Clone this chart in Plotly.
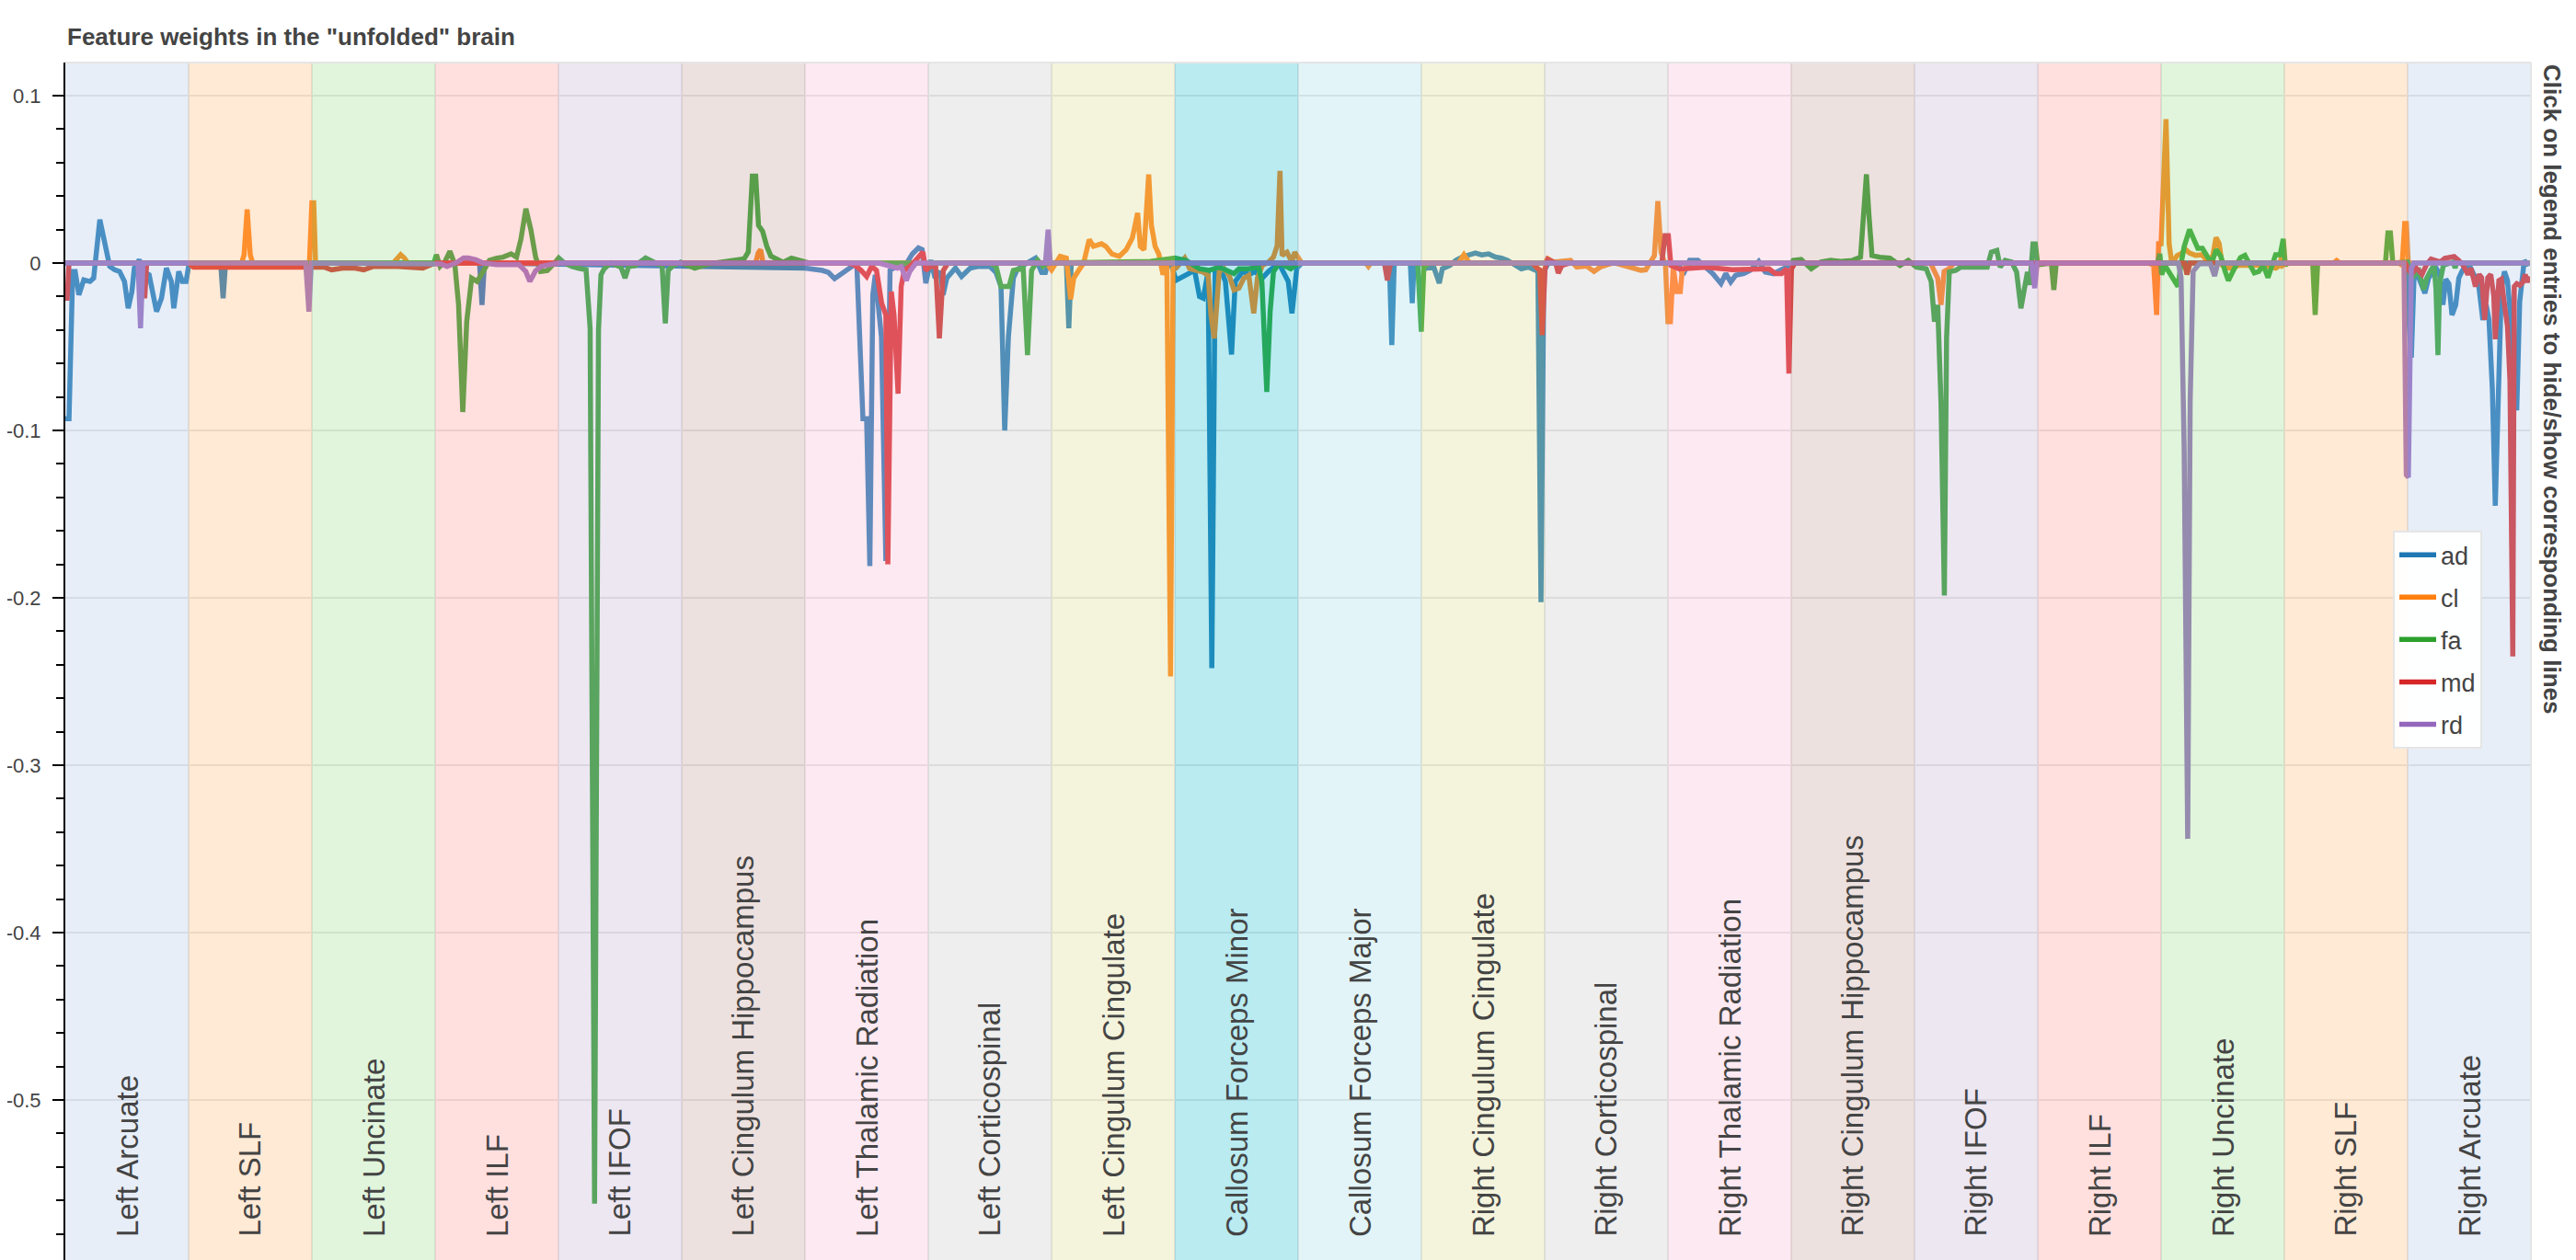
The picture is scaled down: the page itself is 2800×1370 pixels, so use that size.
import plotly.graph_objects as go

# --- data ---
TRACTS = [
    "Left Arcuate", "Left SLF", "Left Uncinate", "Left ILF", "Left IFOF",
    "Left Cingulum Hippocampus", "Left Thalamic Radiation", "Left Corticospinal",
    "Left Cingulum Cingulate", "Callosum Forceps Minor", "Callosum Forceps Major",
    "Right Cingulum Cingulate", "Right Corticospinal", "Right Thalamic Radiation",
    "Right Cingulum Hippocampus", "Right IFOF", "Right ILF", "Right Uncinate",
    "Right SLF", "Right Arcuate",
]
NODES_PER_TRACT = 100
METRICS = ["ad", "cl", "fa", "md", "rd"]
Y_TICKS = [-0.5, -0.4, -0.3, -0.2, -0.1, 0, 0.1]
Y_TICK_TEXT = ["-0.5", "-0.4", "-0.3", "-0.2", "-0.1", "0", "0.1"]

# (node, weight) pairs, node runs 0..1999 along the unfolded tracts
AD_POINTS = [
    (0, -0.093), (3, -0.093), (6, -0.005), (8, -0.005), (11, -0.019), (15, -0.010),
    (20, -0.011), (23, -0.009), (28, 0.026), (31, 0.014), (36, -0.002), (40, -0.004),
    (44, -0.005), (48, -0.011), (51, -0.027), (54, -0.017), (56, -0.003), (60, 0.002),
    (63, -0.005), (68, -0.007), (74, -0.029), (78, -0.021), (82, -0.003), (86, -0.011),
    (88, -0.027), (92, -0.005), (95, -0.011), (98, -0.011), (100, -0.002), (104, 0),
    (126, 0), (128, -0.021), (130, 0),
    (336, 0), (338, -0.025), (340, 0),
    (600, -0.003), (614, -0.0044), (619, -0.0056), (624, -0.0093), (630, -0.006),
    (636, -0.0025), (642, 0), (647, -0.093), (650, -0.093), (652.6, -0.181), (655, -0.019),
    (657, -0.007), (662, -0.044), (665.6, -0.178), (669, -0.0044), (674, -0.002),
    (681, -0.002), (687, 0.0054), (692, 0.009), (695, 0.008), (698, -0.012), (702, 0.0017),
    (705.5, -0.009), (710, -0.005), (712, -0.019), (715, -0.009), (722, -0.003),
    (727, -0.008), (734, -0.003), (741, -0.002), (750, -0.002), (755, -0.0056),
    (759, -0.014), (762, -0.1), (765, -0.044), (769, -0.009), (772, -0.004), (780, 0),
    (787, 0.003), (792, -0.0056), (795, -0.0056), (797, 0),
    (812, 0), (814, -0.039), (816, 0),
    (895, 0), (898, -0.003), (901, -0.0103), (906, -0.008), (912, -0.006), (916, -0.0043),
    (920, -0.02), (923, -0.021), (927, -0.005), (930, -0.242), (932.7, -0.005),
    (937, -0.003), (941, -0.011), (946, -0.0546), (949, -0.011), (955, -0.005),
    (960, -0.007), (965, -0.005), (971, -0.009), (976, -0.005), (981, -0.002),
    (985, -0.001), (989, -0.007), (992, -0.011), (995, -0.03), (999, -0.003), (1003, 0),
    (1074, 0), (1076, -0.049), (1078, 0), (1091, 0), (1092.6, -0.024), (1094, 0),
    (1100, 0), (1104, -0.003), (1110, -0.0024), (1114.5, -0.012), (1117, -0.0034),
    (1123, -0.0014), (1128, 0.0016), (1133, 0.0036), (1138.5, 0.0045), (1143.8, 0.006),
    (1149, 0.0049), (1154.5, 0.0055), (1160, 0.0036), (1165, 0.003), (1170, 0.0016),
    (1176, -0.0014), (1181, -0.0034), (1187, -0.0024), (1194.5, -0.005),
    (1197, -0.2026), (1199.3, -0.005), (1203, 0),
    (1308, 0), (1312.3, -0.0069), (1317.6, 0.0016), (1324.3, 0.0016), (1331, -0.0024),
    (1336.3, -0.0063), (1343, -0.0122), (1346.9, -0.0063), (1350.9, -0.0113),
    (1354.9, -0.0073), (1361.6, -0.0063), (1366.9, -0.0043), (1373.6, 0.001),
    (1378.9, -0.0053), (1385.6, -0.0063), (1392.2, -0.0043), (1396.2, -0.0024), (1400, 0),
    (1898, 0), (1903, -0.0565), (1905.5, -0.0013), (1908, -0.007), (1910.5, -0.0123),
    (1914, -0.018), (1917, -0.009), (1919, -0.007), (1922, -0.0013), (1926, -0.007),
    (1928.6, -0.025), (1931, -0.0096), (1933.5, -0.0125), (1936, -0.031), (1939, -0.025),
    (1941.5, -0.009), (1944, -0.005), (1946.5, -0.0022), (1950, -0.0013), (1954, -0.007),
    (1957.5, -0.0125), (1961, -0.034), (1963.7, -0.025), (1966, -0.034), (1968.7, -0.075),
    (1971.1, -0.145), (1973.5, -0.075), (1976, -0.016), (1978.5, -0.005), (1981, -0.0105),
    (1984.7, -0.042), (1988.5, -0.088), (1990.9, -0.023), (1993.4, -0.0087),
    (1994.6, 0.0015), (1997, -0.0005), (1999, 0),
]

CL_POINTS = [
    (0, 0), (143, 0), (145, 0.005), (147.5, 0.032), (150, 0.005), (152, 0),
    (198, 0), (200, 0.036), (201.5, 0.036), (203, 0),
    (266, 0), (269, 0.003), (272, 0.005), (275, 0.003), (278, 0),
    (560, 0), (562, 0.006), (564, 0.008), (566, 0),
    (796, 0), (800, -0.004), (807, 0.004), (812, 0.003), (815.5, -0.0216), (818, -0.009),
    (822, -0.0044), (826, 0), (830.5, 0.014), (834, 0.01), (840.5, 0.0115), (844, 0.01),
    (849, 0.0054), (855, 0.004), (860.5, 0.008), (865.5, 0.015), (867, 0.02),
    (869.8, 0.03), (872, 0.01), (875, 0.008), (878.8, 0.053), (881, 0.0225), (884, 0.01),
    (887, 0.0054), (890.4, -0.007), (893.5, 0), (896.5, -0.247), (898.6, -0.0034),
    (901, -0.003), (908, 0.003), (912, -0.0034), (917, -0.0044), (923, -0.0054),
    (927, -0.0073), (929.3, -0.031), (932, -0.045), (936, -0.005), (940, -0.0034),
    (944, -0.0073), (948, -0.016), (952, -0.015), (956, -0.009), (960, -0.0073),
    (964, -0.030), (967, -0.009), (971, -0.0014), (976, 0.0006), (980, 0.0036),
    (983, 0.0104), (985.3, 0.055), (987, 0.0045), (991, 0.0065), (995, 0.0006),
    (997.2, 0.0065), (1000, 0.0026), (1003, 0),
    (1055, 0), (1057, -0.002), (1059, 0),
    (1130, 0), (1134.5, 0.005), (1139, 0),
    (1200, 0), (1202.5, 0.0026), (1207, 0.0006), (1213, 0.001), (1221, 0.0016),
    (1226, -0.0024), (1234, -0.0018), (1240, -0.005), (1245, -0.0024), (1256, 0.0002),
    (1267, -0.0018), (1278, -0.0043), (1282, -0.004), (1286, 0.0016), (1289, 0.0045),
    (1291.8, 0.037), (1294.4, 0.0065), (1298, -0.0014), (1300, -0.035), (1302, -0.035),
    (1304.3, -0.0024), (1307, -0.017), (1310, -0.017), (1311.5, -0.005), (1315, -0.0024),
    (1320, 0),
    (1513, 0), (1518.8, -0.009), (1521.5, -0.025), (1524, -0.005), (1528, -0.0034), (1532, 0),
    (1690, 0), (1694, -0.0014), (1696.4, -0.031), (1698, 0.0116), (1700, 0.0116),
    (1704, 0.086), (1706.5, 0.0116), (1708.8, -0.0006), (1713, 0.0045), (1716, 0.0055),
    (1720, 0.008), (1723, 0.006), (1728, 0.0046), (1733, 0.005), (1738.5, 0.0006),
    (1742, 0.0045), (1744.6, 0.0153), (1747.1, 0.0116), (1749.6, -0.0013),
    (1753.3, -0.003), (1758, -0.003), (1763, -0.0013), (1773, -0.0013), (1783, -0.0013),
    (1793, -0.003), (1796.6, -0.0013), (1797.9, 0.006), (1799, -0.0013), (1802, 0),
    (1840, 0), (1842.4, 0.0015), (1845, 0),
    (1893, 0), (1895.5, -0.0013), (1897.6, 0.0236), (1899, 0.0236), (1900.6, -0.0013),
    (1903, 0), (1999, 0),
]

FA_POINTS = [
    (0, 0), (299, 0), (301, 0.005), (304, -0.002), (308, 0.001), (312, 0.007),
    (316, -0.001), (319, -0.025), (322.4, -0.089), (325.6, -0.035), (329.6, -0.009),
    (334, -0.011), (339, -0.005), (344, 0.0016), (350, 0.003), (355, 0.0035),
    (361.6, 0.0055), (366, 0.0035), (369.6, 0.0144), (373.6, 0.0325), (377.6, 0.02),
    (381.5, 0.0035), (385.5, -0.005), (391, -0.0045), (397.5, 0.0006), (400.2, 0.003),
    (404, 0.0005), (410.7, -0.002), (416, -0.003), (422.4, -0.004), (425.7, -0.039),
    (429.3, -0.562), (432.5, -0.04), (434.5, -0.007), (437, -0.0035), (442.3, 0),
    (450.7, -0.0024), (454, -0.009), (457, -0.002), (462.3, -0.0015), (470.7, 0.003),
    (480.7, -0.0007), (484, -0.0007), (486.7, -0.036), (489, -0.0044), (492.3, -0.002),
    (499, 0.0005), (510.6, -0.003), (520.7, -0.0007), (534, 0.001), (544, 0.0017),
    (550.6, 0.0025), (554, 0.0066), (557.3, 0.052), (560, 0.052), (562.3, 0.0225),
    (565.6, 0.019), (569, 0.01), (572.3, 0.0042), (577.3, 0.0025), (582.3, 0.0005),
    (589, 0.003), (597.3, 0.001), (604, 0),
    (750, 0), (755, -0.002), (759, -0.014), (765.5, -0.014), (769, -0.0044), (777, -0.003),
    (780.5, -0.055), (783.8, -0.0044), (788.8, 0.0017), (793, -0.002), (797, 0),
    (880, 0.001), (900, 0.003), (909, 0.0016), (920, -0.0034), (928, -0.0043),
    (936, -0.0024), (944, -0.0053), (948, -0.0063), (952, -0.0034), (960, -0.0034),
    (968, -0.0024), (970.6, -0.011), (974.6, -0.077), (977.3, -0.029), (980, -0.0053),
    (984, -0.0005), (989, -0.0015), (994, -0.0034), (998, -0.0014), (1002, 0),
    (1097, 0), (1099.9, -0.041), (1102, -0.0024), (1106, 0),
    (1400, 0), (1401.6, 0.0016), (1408, 0.0022), (1416.2, -0.0034), (1424, 0.0006),
    (1432, 0.0016), (1440, 0.001), (1449.5, 0.0016), (1456.2, 0.0035), (1458.9, 0.028),
    (1461, 0.053), (1462.9, 0.03), (1465.5, 0.0045), (1472, 0.0035), (1480, 0.003),
    (1488.2, -0.0014), (1494.9, 0.0016), (1501.5, -0.0024), (1509.5, -0.0034),
    (1513.5, -0.011), (1516.2, -0.035), (1518.8, -0.025), (1521.5, -0.084),
    (1524.2, -0.1986), (1526, -0.045), (1528.2, -0.0053), (1533.5, -0.0043),
    (1537.5, -0.0024), (1544, -0.0024), (1552, -0.0024), (1559, -0.0024),
    (1562.3, 0.0065), (1566.8, 0.0075), (1569.5, -0.0024), (1573.5, 0.0016),
    (1578.8, 0.0006), (1582.8, -0.0053), (1586.3, -0.027), (1589, -0.0134),
    (1591.6, -0.0053), (1593.5, -0.013), (1596.1, 0.0114), (1598, 0.0114), (1600, -0.001),
    (1611, 0), (1613, -0.016), (1615, 0),
    (1697, 0), (1699, 0.0055), (1700.5, -0.007), (1703, -0.0013), (1706.3, -0.005),
    (1710, -0.0087), (1713.7, -0.014), (1716, -0.0013), (1718.7, 0.0098), (1723.1, 0.02),
    (1726.1, 0.0144), (1729.8, 0.0088), (1733.5, 0.0088), (1737.2, 0.0042),
    (1741, -0.0004), (1744.6, 0.008), (1748.4, 0.0042), (1752, -0.005), (1754.6, -0.0105),
    (1759.5, -0.0031), (1764.4, 0.0033), (1768, 0.0046), (1771.9, -0.0013),
    (1775.6, -0.0059), (1779.3, -0.005), (1783, -0.0013), (1786.7, -0.0087),
    (1790.4, 0.0006), (1792.9, 0.005), (1796.6, 0.005), (1799.1, 0.0144),
    (1800.8, -0.0013), (1803, 0),
    (1823, 0), (1825, -0.031), (1827, 0),
    (1882, 0), (1884, 0.018), (1886, 0.018), (1888, 0),
    (1900, 0.0006), (1903, -0.009), (1909.3, -0.005), (1913, -0.016), (1915.5, -0.009),
    (1919, -0.004), (1921.5, -0.0013), (1923, -0.016), (1924.6, -0.055), (1926, -0.012),
    (1929, -0.0013), (1937, 0.0006), (1938.5, -0.003), (1940, 0.0006), (1943, 0), (1999, 0),
]

MD_POINTS = [
    (0, -0.021), (1.5, -0.021), (3, 0), (62, 0), (64.4, -0.021), (66, 0), (100, 0),
    (104, -0.0024), (150, -0.0024), (200, -0.0024), (210, -0.0024), (216, -0.004),
    (225, -0.003), (235, -0.003), (242, -0.004), (250, -0.002), (270, -0.002),
    (290, -0.003), (300, 0),
    (635, 0), (640, -0.001), (645.6, -0.0044), (650, -0.008), (654, -0.002),
    (658, -0.0044), (662.2, -0.024), (665.6, -0.031), (667.2, -0.18), (670, -0.017),
    (672.2, -0.031), (675.5, -0.078), (678, -0.014), (680.5, -0.0044), (687, -0.0007),
    (695.6, 0.0066), (698, -0.0044), (702, -0.002), (706, -0.002), (709, -0.045),
    (712.2, -0.0044), (716, 0),
    (1070, 0), (1072.4, -0.0103), (1075, 0),
    (1190, 0), (1194.5, -0.0034), (1196, -0.004), (1198, -0.043), (1200.3, -0.0034),
    (1202.5, 0.0022), (1207, 0.0006), (1209, 0), (1211, -0.006), (1214, -0.0014), (1220, 0),
    (1295, 0), (1297.6, 0.0164), (1300.3, 0.0164), (1302.4, -0.0014), (1309, -0.0034),
    (1312, -0.0034), (1331, -0.0024), (1352.3, -0.004), (1363, -0.0038), (1374, -0.0034),
    (1382, -0.0034), (1387, -0.0063), (1392.2, -0.0063), (1396.2, -0.0034),
    (1398.1, -0.066), (1400.2, -0.0034), (1403, 0),
    (1719, 0), (1721, -0.0068), (1723.5, 0),
    (1898, 0), (1903, -0.0068), (1907, -0.003), (1911.7, -0.0068), (1915.5, -0.0006),
    (1919, 0.0024), (1922.7, 0.0016), (1926.5, 0.0006), (1930.2, 0.0029), (1934, 0.0035),
    (1937.7, 0.0039), (1941.5, 0.0016), (1945, -0.0013), (1948.9, -0.0068),
    (1951.4, -0.0031), (1955, -0.014), (1958, -0.0068), (1960, -0.0087), (1962.5, -0.034),
    (1965, -0.0087), (1967.4, -0.0068), (1969.9, -0.0197), (1971.1, -0.0455),
    (1974, -0.0105), (1976, -0.0096), (1978.6, -0.025), (1981, -0.038), (1983, -0.07),
    (1985.3, -0.235), (1986.5, -0.014), (1988.5, -0.0123), (1991, -0.0133),
    (1993.4, -0.0114), (1995.4, -0.0068), (1997.1, -0.0114), (1999, -0.008),
]

RD_POINTS = [
    (0, 0), (59, 0), (61, -0.039), (63, 0), (195, 0), (197.6, -0.029), (199.5, 0),
    (300, 0), (305, -0.0005), (309.6, -0.002), (314, -0.001), (318, 0.0006), (323, 0.003),
    (327, 0.003), (333, 0.002), (339, 0), (344, -0.0004), (350, -0.001), (361, -0.001),
    (368, -0.001), (373.5, -0.005), (376.8, -0.011), (379, -0.008), (381.5, -0.0045),
    (386, -0.002), (395, -0.001), (400, 0),
    (660, 0), (664, -0.001), (670, -0.002), (675, -0.003), (678, -0.002), (682.2, -0.0105),
    (685, -0.005), (690, 0),
    (795, 0), (797.2, 0.02), (799, 0),
    (1595, 0), (1597.5, -0.015), (1599.5, 0),
    (1714, 0), (1716.2, -0.0087), (1718.7, -0.11), (1721.6, -0.344), (1723.6, -0.082),
    (1726, -0.005), (1731, -0.0004), (1740, -0.0004), (1743.4, -0.0077), (1746, 0),
    (1897, 0), (1898.9, -0.1265), (1900.6, -0.128), (1903, -0.003), (1905, 0), (1999, 0),
]

# --- styling ---
LINE_COLORS = ["#1f77b4", "#ff7f0e", "#2ca02c", "#d62728", "#9467bd"]
BAND_COLORS = [
    "#aec7e8", "#ffbb78", "#98df8a", "#ff9896", "#c5b0d5", "#c49c94", "#f7b6d2",
    "#c7c7c7", "#dbdb8d", "#17becf", "#9edae5", "#dbdb8d", "#c7c7c7", "#f7b6d2",
    "#c49c94", "#c5b0d5", "#ff9896", "#98df8a", "#ffbb78", "#aec7e8",
]
FONT = "Liberation Sans, Arial, Helvetica, sans-serif"
TEXT_COLOR = "#444444"


def rgba(hex_color, alpha):
    h = hex_color.lstrip("#")
    r, g, b = int(h[0:2], 16), int(h[2:4], 16), int(h[4:6], 16)
    return f"rgba({r},{g},{b},{alpha})"


fig = go.Figure()

series = [AD_POINTS, CL_POINTS, FA_POINTS, MD_POINTS, RD_POINTS]
for name, pts, color in zip(METRICS, series, LINE_COLORS):
    xs, ys = zip(*pts)
    fig.add_trace(go.Scatter(
        x=list(xs), y=list(ys), mode="lines", name=name, legendgroup=name,
        line=dict(color=color, width=5.5),
    ))

# tract bands (translucent, drawn above the lines like the original)
n_tracts = len(TRACTS)
for i, (tract, color) in enumerate(zip(TRACTS, BAND_COLORS)):
    x0 = i * NODES_PER_TRACT
    fig.add_shape(type="rect", xref="x", yref="paper", x0=x0, x1=x0 + NODES_PER_TRACT,
                  y0=0, y1=1, fillcolor=rgba(color, 0.3), line_width=0, layer="above")
    fig.add_annotation(x=x0 + NODES_PER_TRACT / 2, y=-0.583, text=tract, textangle=-90,
                       showarrow=False, xanchor="center", yanchor="bottom",
                       font=dict(family=FONT, size=33, color=TEXT_COLOR))

# plot outline (top and right)
fig.add_shape(type="line", xref="paper", yref="paper", x0=0, x1=1, y0=1, y1=1,
              line=dict(color="#e5e5e5", width=2), layer="above")
fig.add_shape(type="line", xref="paper", yref="paper", x0=1, x1=1, y0=0, y1=1,
              line=dict(color="#e5e5e5", width=2), layer="above")

# title and side note
fig.add_annotation(xref="paper", yref="paper", x=0, y=1, xanchor="left", yanchor="middle",
                   yshift=28, showarrow=False,
                   text='<b>Feature weights in the "unfolded" brain</b>',
                   font=dict(family=FONT, size=26, color=TEXT_COLOR))
fig.add_annotation(xref="paper", yref="paper", x=1, y=1, xanchor="left", yanchor="top",
                   xshift=6, textangle=90, showarrow=False,
                   text="<b>Click on legend entries to hide/show corresponding lines</b>",
                   font=dict(family=FONT, size=26, color=TEXT_COLOR))

fig.update_layout(
    width=2800, height=1370,
    margin=dict(l=63, r=57, t=60, b=8, autoexpand=False),
    paper_bgcolor="white", plot_bgcolor="white",
    font=dict(family=FONT, color=TEXT_COLOR),
    showlegend=True,
    legend=dict(
        x=(2593 - 63) / 2680, y=0.609, xanchor="left", yanchor="top",
        bgcolor="rgba(255,255,255,0.95)", bordercolor="#e5e5e5", borderwidth=2,
        font=dict(family=FONT, size=27, color=TEXT_COLOR),
        itemwidth=40, tracegroupgap=8,
    ),
    xaxis=dict(
        range=[0, n_tracts * NODES_PER_TRACT], automargin=False,
        tickvals=[i * NODES_PER_TRACT for i in range(1, n_tracts)],
        showticklabels=False, ticks="",
        showgrid=True, gridcolor="#e5e5e5", gridwidth=2, zeroline=False,
        showline=True, linecolor="black", linewidth=2,
    ),
    yaxis=dict(
        range=[-0.5956, 0.1198], automargin=False,
        tickvals=Y_TICKS, ticktext=Y_TICK_TEXT,
        ticks="outside", ticklen=12, tickwidth=2, tickcolor="black",
        ticklabelstandoff=8,
        tickfont=dict(family=FONT, size=22, color=TEXT_COLOR),
        minor=dict(dtick=0.02, ticks="outside", ticklen=8, tickwidth=2,
                   tickcolor="black", showgrid=False),
        showgrid=True, gridcolor="#e5e5e5", gridwidth=2, zeroline=False,
        showline=True, linecolor="black", linewidth=2,
    ),
)

fig.write_html("out.html")
